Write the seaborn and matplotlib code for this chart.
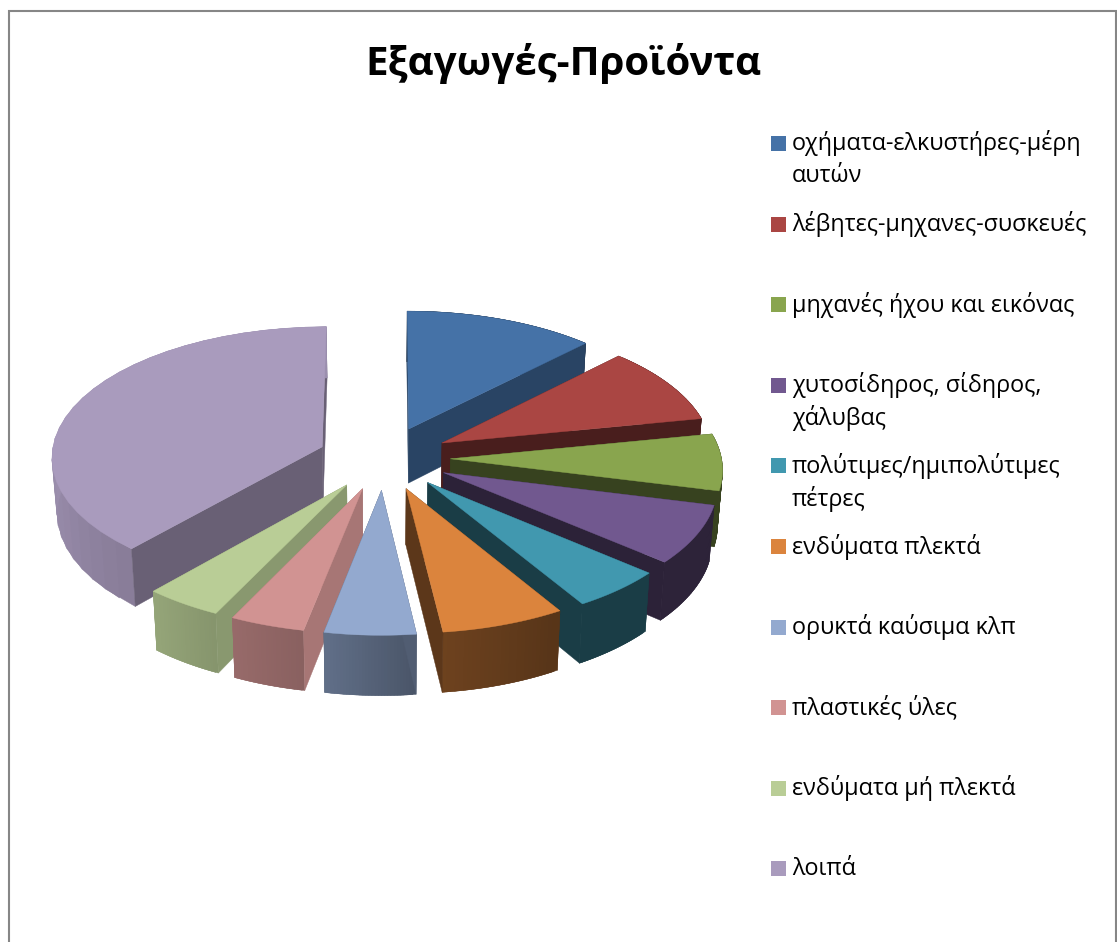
import numpy as np
import pandas as pd
import matplotlib
matplotlib.use("Agg")
import matplotlib.pyplot as plt
from matplotlib.patches import Rectangle, Polygon
import seaborn as sns

# ─────────────────────────────────────────────
# Data
# ─────────────────────────────────────────────

TITLE = "Εξαγωγές-Προϊόντα"
categories = [
    "οχήματα-ελκυστήρες-μέρη\nαυτών",
    "λέβητες-μηχανες-συσκευές",
    "μηχανές ήχου και εικόνας",
    "χυτοσίδηρος, σίδηρος,\nχάλυβας",
    "πολύτιμες/ημιπολύτιμες\nπέτρες",
    "ενδύματα πλεκτά",
    "ορυκτά καύσιμα κλπ",
    "πλαστικές ύλες",
    "ενδύματα μή πλεκτά",
    "λοιπά",
]
shares = [12.35, 9.55, 7.0, 7.3, 5.1, 6.8, 5.0, 4.1, 4.25, 38.55]
colors = ["#4572A7", "#AA4643", "#89A54E", "#71588F", "#4198AF",
          "#DB843D", "#93A9CF", "#D19392", "#B9CD96", "#A99BBD"]
# brightness of the cut face that faces the viewer
cut_shade = [0.60, 0.43, 0.40, 0.39, 0.40, 0.42, 0.55, 0.80, 0.74, 0.62]

# ─────────────────────────────────────────────
# 3D look
# ─────────────────────────────────────────────

CX, CY = 384.0, 458.0
R_X, R_Y = 271.0, 130.0
PERSP = 0.07
DEPTH = 55.0
EXPLODE = 0.245
LOW_X = 0.985


def project(u, v, low=False):
    """Tilted plane with a bit of perspective -> pixel coordinates."""
    s = 1 / (1 + PERSP * np.asarray(v))
    x = CX + R_X * np.asarray(u) * s * (LOW_X if low else 1.0)
    y = CY - R_Y * np.asarray(v) * s + (DEPTH * s if low else 0.0)
    return x, y


def rim_shade(deg):
    return np.interp(deg, [0, 150, 173, 190, 205, 220, 250, 275, 360],
                     [0.4, 0.4, 0.5, 0.65, 0.72, 0.8, 0.88, 0.92, 0.92])


def darken(color, k):
    return tuple(np.array(matplotlib.colors.to_rgb(color)) * k)


def draw_quad(ax, xs, ys, color, z):
    ax.add_patch(Polygon(np.column_stack([xs, ys]), closed=True, facecolor=color,
                         edgecolor=color, linewidth=0.3, zorder=z))


def draw_wedge(ax, start, end, color, shade, z):
    mid = np.radians((start + end) / 2)
    u0, v0 = EXPLODE * np.sin(mid), EXPLODE * np.cos(mid)
    deg = np.linspace(start, end, 30)
    u = u0 + np.sin(np.radians(deg))
    v = v0 + np.cos(np.radians(deg))

    tx, ty = project(u0, v0)
    lx, ly = project(u0, v0, low=True)
    x_top, y_top = project(u, v)
    x_low, y_low = project(u, v, low=True)

    # the cut face on the far side goes first, the near one after the rim
    facing_end = (start + end) / 2 < 180
    near, far = (-1, 0) if facing_end else (0, -1)
    draw_quad(ax, [tx, x_top[far], x_low[far], lx], [ty, y_top[far], y_low[far], ly],
              darken(color, shade), z)
    # rim strips overlap their neighbour so no seams show between them
    n = len(deg)
    for i in range(n - 1):
        k = rim_shade((deg[i] + deg[i + 1]) / 2)
        j = min(i + 2, n - 1)
        draw_quad(ax, [x_top[i], x_top[j], x_low[j], x_low[i]],
                  [y_top[i], y_top[j], y_low[j], y_low[i]],
                  darken(color, k), z)
    draw_quad(ax, [tx, x_top[near], x_low[near], lx], [ty, y_top[near], y_low[near], ly],
              darken(color, shade), z)
    draw_quad(ax, np.r_[tx, x_top], np.r_[ty, y_top], color, z)


# ─────────────────────────────────────────────
# Figure
# ─────────────────────────────────────────────

sns.set_theme(style="white")
plt.rcParams["font.family"] = ["Open Sans", "DejaVu Sans"]

df = pd.DataFrame({"label": categories, "share": shares, "color": colors, "shade": cut_shade})
df["end"] = df["share"].cumsum() / df["share"].sum() * 360
df["start"] = df["end"] - df["share"] / df["share"].sum() * 360
df["mid"] = (df["start"] + df["end"]) / 2

fig = plt.figure(figsize=(11.17, 9.42), dpi=100)
ax = fig.add_axes([0, 0, 1, 1])
ax.set_xlim(0, 1117)
ax.set_ylim(942, 0)
ax.axis("off")

# back slices first
draw_order = np.cos(np.radians(df["mid"])).sort_values(ascending=False).index
for z, idx in enumerate(draw_order):
    row = df.loc[idx]
    draw_wedge(ax, row["start"], row["end"], row["color"], row["shade"], z + 2)

# chart frame, open at the bottom
ax.plot([9, 9, 1116, 1116], [942, 10.5, 10.5, 942], color="#868686", lw=1.5,
        solid_joinstyle="miter", zorder=1)

ax.text(563, 63, TITLE, ha="center", va="center", fontsize=29, fontweight="bold", color="black")

for i, row in df.iterrows():
    y = 143.5 + 80.6 * i
    ax.add_patch(Rectangle((771, y - 7.5), 15, 15, facecolor=row["color"], edgecolor="none"))
    for j, line in enumerate(row["label"].split("\n")):
        ax.text(792, y + 33 * j, line, ha="left", va="center", fontsize=16.8, color="black")

fig.savefig("out.png", dpi=100)
plt.close(fig)
